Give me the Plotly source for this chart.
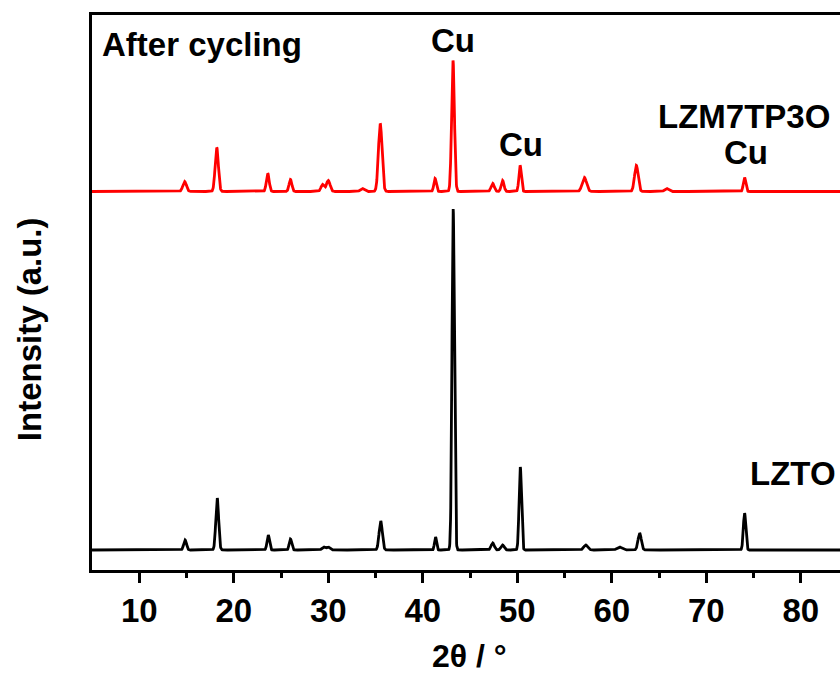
import numpy as np
import plotly.graph_objects as go

# ---- data (peak positions in 2θ, heights in a.u.) ----
lzto_pos = [14.85, 18.25, 23.65, 26.0, 29.5, 30.0, 35.55, 41.35, 43.22, 47.4, 48.45, 50.32, 57.25, 60.8, 62.95, 74.05]
lzto_hgt = [10, 52, 15, 11, 3, 3, 29, 13, 341, 7, 5, 83, 5, 3, 17, 37]
lzto_wid = [0.35, 0.35, 0.3, 0.3, 0.4, 0.4, 0.4, 0.25, 0.3, 0.4, 0.4, 0.3, 0.5, 0.6, 0.4, 0.3]

lzm_pos = [14.8, 18.2, 23.6, 26.0, 29.4, 30.0, 33.6, 35.5, 41.3, 43.2, 47.4, 48.45, 50.3, 57.1, 62.6, 65.8, 74.05]
lzm_hgt = [10, 44, 18, 12, 7, 11, 3, 68, 13, 131, 8, 11, 26, 14, 26, 3, 14]
lzm_wid = [0.45, 0.4, 0.35, 0.35, 0.4, 0.45, 0.5, 0.45, 0.3, 0.35, 0.4, 0.35, 0.3, 0.55, 0.45, 0.5, 0.3]

lzto_base = 20
lzm_base = 378.5

x_ticks = [10, 20, 30, 40, 50, 60, 70, 80]
x_minor = [15, 25, 35, 45, 55, 65, 75]

labels = ["After cycling", "Cu", "Cu", "LZM7TP3O", "Cu", "LZTO"]

# ---- build profiles from the peak lists ----
two_theta = np.arange(5.0, 85.0001, 0.02)


def profile(pos, hgt, wid, base):
    y = np.full_like(two_theta, float(base))
    for p, h, w in zip(pos, hgt, wid):
        s = w / 2.3548
        y += h * np.exp(-0.5 * ((two_theta - p) / s) ** 2)
    return y


y_lzto = profile(lzto_pos, lzto_hgt, lzto_wid, lzto_base)
y_lzm = profile(lzm_pos, lzm_hgt, lzm_wid, lzm_base)

FONT = "Liberation Sans, Arial, sans-serif"


def bold(size):
    return dict(family=FONT, size=size, color="black", weight="bold")


fig = go.Figure()
fig.add_trace(go.Scatter(x=two_theta, y=y_lzto, mode="lines",
                         line=dict(color="#000000", width=2.8), showlegend=False))
fig.add_trace(go.Scatter(x=two_theta, y=y_lzm, mode="lines",
                         line=dict(color="#ff0000", width=2.8), showlegend=False))

fig.add_annotation(x=0.011, xref="paper", y=570 - 44, yref="y", text=labels[0],
                   showarrow=False, xanchor="left", yanchor="middle", font=bold(33))
fig.add_annotation(x=43.2, y=570 - 40, text=labels[1], showarrow=False,
                   xanchor="center", yanchor="middle", font=bold(33))
fig.add_annotation(x=50.4, y=570 - 144, text=labels[2], showarrow=False,
                   xanchor="center", yanchor="middle", font=bold(33))
fig.add_annotation(x=74.0, y=570 - 116, text=labels[3], showarrow=False,
                   xanchor="center", yanchor="middle", font=bold(33))
fig.add_annotation(x=74.2, y=570 - 152, text=labels[4], showarrow=False,
                   xanchor="center", yanchor="middle", font=bold(33))
fig.add_annotation(x=79.2, y=570 - 473, text=labels[5], showarrow=False,
                   xanchor="center", yanchor="middle", font=bold(33))
# axis titles as annotations
fig.add_annotation(x=-0.084, xref="paper", y=570 - 329, yref="y", text="Intensity (a.u.)",
                   showarrow=False, textangle=-90, xanchor="center", yanchor="middle",
                   font=bold(33))
fig.add_annotation(x=0.505, xref="paper", y=-0.155, yref="paper", text="2θ / °",
                   showarrow=False, xanchor="center", yanchor="middle", font=bold(32))

fig.update_layout(
    width=840, height=677,
    margin=dict(l=92, r=0, t=15, b=107),
    paper_bgcolor="white", plot_bgcolor="white",
    xaxis=dict(
        range=[5, 84.15], tickvals=x_ticks, ticktext=[str(v) for v in x_ticks],
        ticks="outside", ticklen=10, tickwidth=2.5, tickcolor="black",
        showline=True, linewidth=2.5, linecolor="black", mirror=True,
        showgrid=False, zeroline=False,
        tickfont=bold(33),
        minor=dict(tickvals=x_minor, ticks="outside",
                   ticklen=5, tickwidth=2.5, tickcolor="black", showgrid=False),
    ),
    yaxis=dict(
        range=[0, 555], showticklabels=False, ticks="",
        showline=True, linewidth=2.5, linecolor="black", mirror=False,
        showgrid=False, zeroline=False,
    ),
)

fig.write_html("out.html")
